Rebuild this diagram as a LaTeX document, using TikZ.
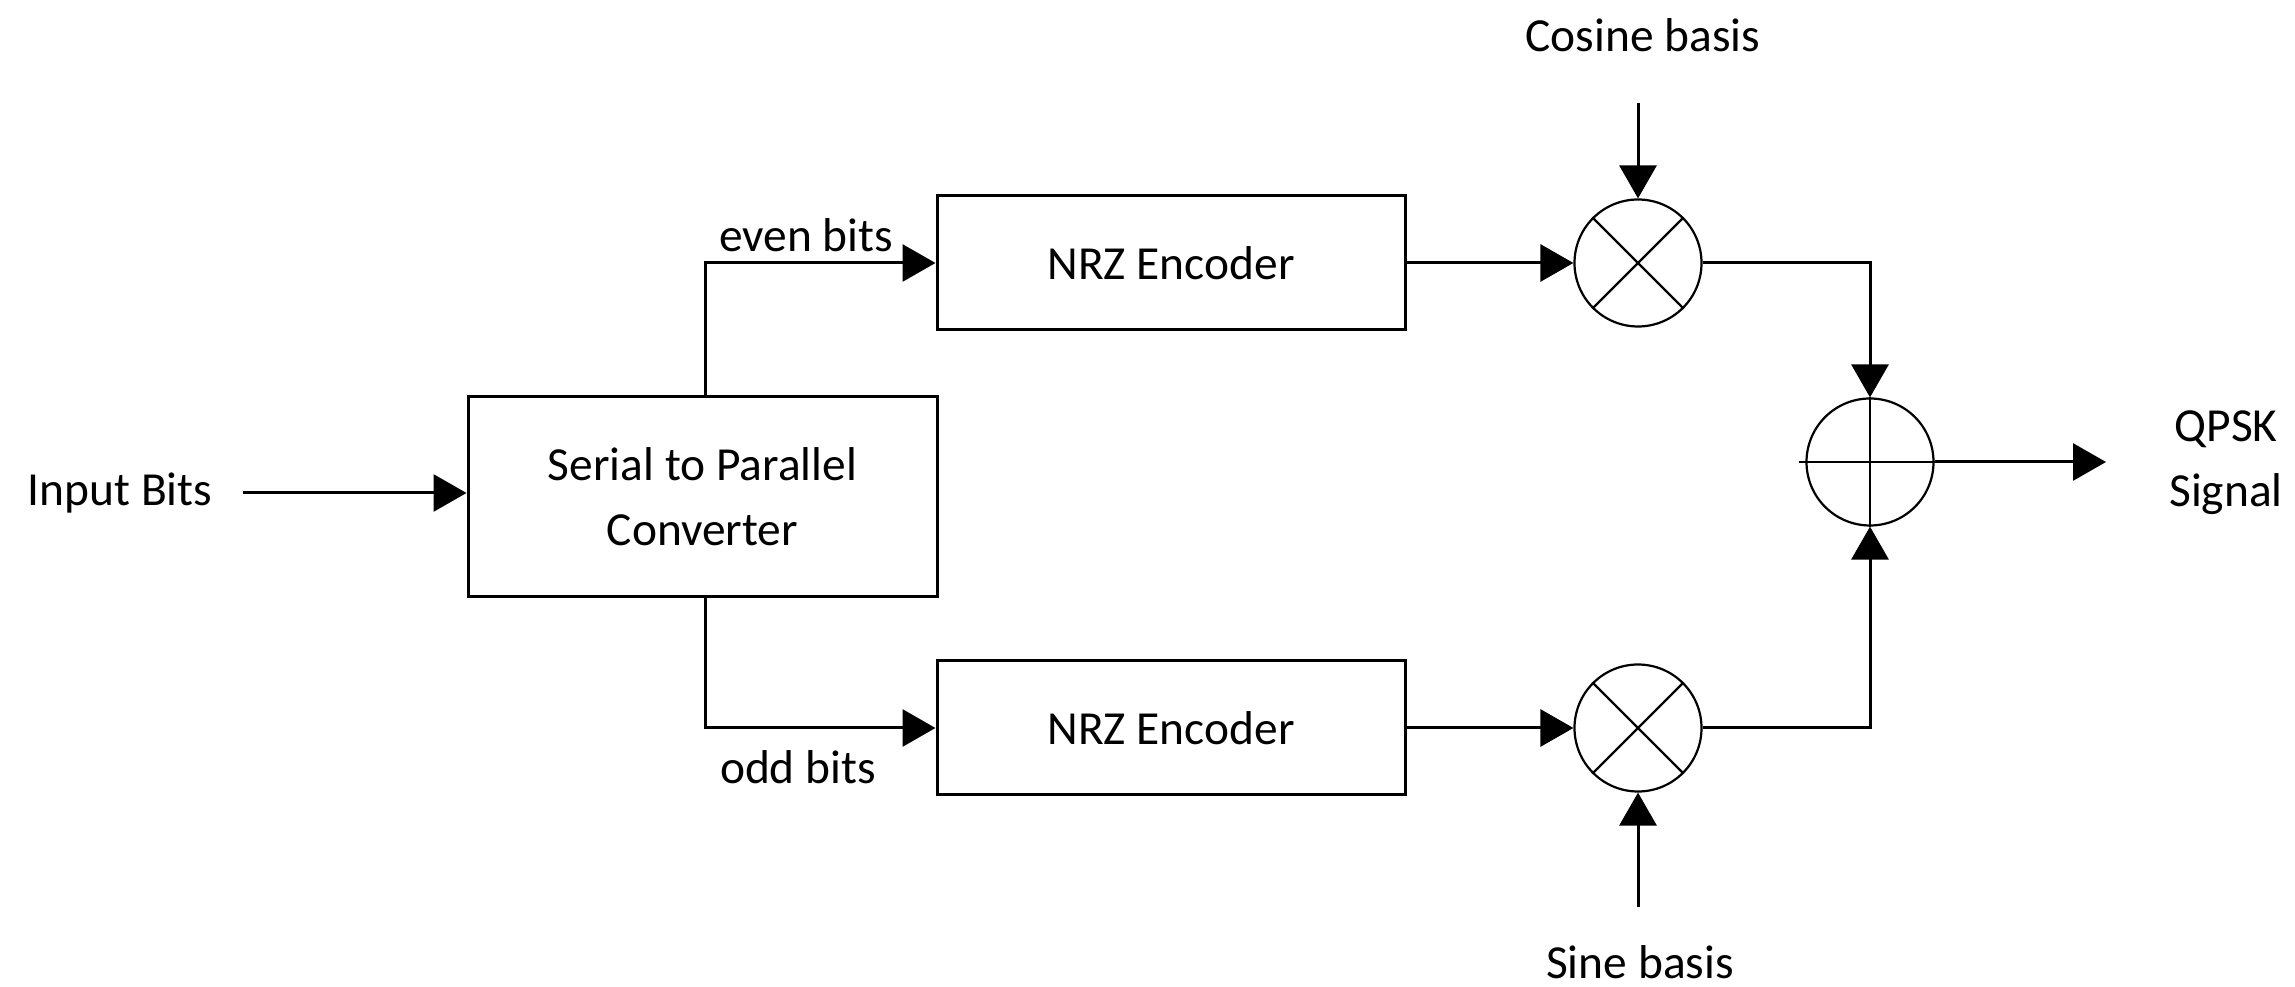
\documentclass[tikz,border=0pt]{standalone}
\usepackage{fontspec}
\setmainfont{Carlito}
\usetikzlibrary{arrows.meta}
\begin{document}
\begin{tikzpicture}[x=0.1mm,y=-0.1mm,
  txt/.style={font=\fontsize{13.5}{18.5}\selectfont, align=center, inner sep=0pt},
  blk/.style={draw, line width=0.3mm, txt},
  circ/.style={draw, circle, line width=0.22mm, inner sep=0pt, minimum size=12.7mm},
  wire/.style={line width=0.3mm},
  arr/.style={wire, -{Triangle[length=3.3mm,width=3.7mm]}}]
\useasboundingbox (0,0) rectangle (2295,987);
% blocks
\node[blk, minimum width=46.9mm, minimum height=20mm] (sp) at (702.5,497) {Serial to Parallel\\Converter};
\node[blk, minimum width=46.8mm, minimum height=13.4mm] (nrz1) at (1171,263) {NRZ Encoder};
\node[blk, minimum width=46.8mm, minimum height=13.4mm] (nrz2) at (1171,728) {NRZ Encoder};
\node[circ] (m1) at (1638,263) {};
\node[circ] (m2) at (1638,728) {};
\node[circ] (add) at (1870,462) {};
\draw[line width=0.22mm] (m1.45) -- (m1.225) (m1.135) -- (m1.315);
\draw[line width=0.22mm] (m2.45) -- (m2.225) (m2.135) -- (m2.315);
\draw[line width=0.22mm] ([xshift=-0.6mm]add.west) -- ([xshift=0.6mm]add.east) (add.north) -- (add.south);
% labels
\node[txt] (inp) at (120,493) {Input Bits};
\node[txt] (even) at (806,235) {even bits};
\node[txt] (odd) at (798,767) {odd bits};
\node[txt] (cos) at (1643,35) {Cosine basis};
\node[txt] (sin) at (1640,962) {Sine basis};
\node[txt] (qpsk) at (2226,463) {QPSK\\Signal};
% coordinates
\coordinate (inS) at (243,493);
\coordinate (ev) at (705,263);
\coordinate (od) at (705,728);
\coordinate (cs) at (1638,103);
\coordinate (sn) at (1638,907);
\coordinate (out) at (2106,462);
% connectors
\draw[arr] (inS) -- (sp.west |- inS);
\draw[arr] (sp.north -| ev) -- (ev) -- (nrz1.west);
\draw[arr] (sp.south -| od) -- (od) -- (nrz2.west);
\draw[arr] (nrz1.east) -- (m1.west);
\draw[arr] (nrz2.east) -- (m2.west);
\draw[arr] (cs) -- (m1.north);
\draw[arr] (sn) -- (m2.south);
\draw[arr] (m1.east) -- (m1.east -| add.north) -- (add.north);
\draw[arr] (m2.east) -- (m2.east -| add.south) -- (add.south);
\draw[arr] (add.east) -- (out);
\end{tikzpicture}
\end{document}
